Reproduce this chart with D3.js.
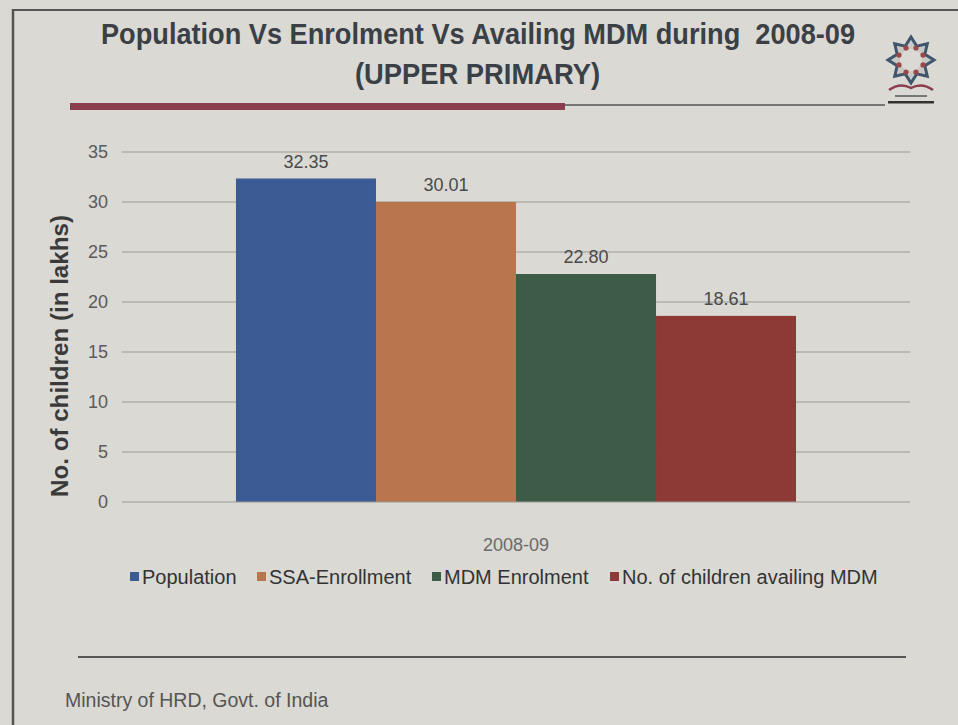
<!DOCTYPE html>
<html lang="en">
  <head>
    <meta charset="UTF-8" />
    <title>Population Vs Enrolment Vs Availing MDM - Upper Primary</title>
    <script src="https://d3js.org/d3.v7.min.js"></script>
    <style>
      body { margin: 0; background: #dad9d3; }
      svg text { font-family: "Liberation Sans", Arial, sans-serif; }
    </style>
  </head>
  <body>
    <svg id="chart" width="958" height="725"></svg>

    <script>
      // data
      const categories = ["2008-09"];
      const series = ["Population", "SSA-Enrollment", "MDM Enrolment", "No. of children availing MDM"];
      const values = [32.35, 30.01, 22.8, 18.61];
      const valueLabels = ["32.35", "30.01", "22.80", "18.61"];
      const colors = ["#3c5a93", "#b9754d", "#3c5c47", "#8d3a37"];
      const yTicks = [0, 5, 10, 15, 20, 25, 30, 35];

      const svg = d3.select("#chart");

      // slide frame
      svg.append("rect").attr("width", 958).attr("height", 725).attr("fill", "#dad9d3");
      svg.append("line").attr("x1", 13).attr("x2", 958).attr("y1", 10).attr("y2", 10)
        .attr("stroke", "#555").attr("stroke-width", 2);
      svg.append("line").attr("x1", 13).attr("x2", 13).attr("y1", 9).attr("y2", 725)
        .attr("stroke", "#555").attr("stroke-width", 2.5);

      // title (condensed bold)
      svg.append("text").attr("x", 101).attr("y", 44)
        .attr("textLength", 754).attr("lengthAdjust", "spacingAndGlyphs")
        .attr("font-size", 30).attr("font-weight", "bold").attr("fill", "#3a4046")
        .style("white-space", "pre")
        .text("Population Vs Enrolment Vs Availing MDM during  2008-09");
      svg.append("text").attr("x", 355).attr("y", 84)
        .attr("textLength", 245).attr("lengthAdjust", "spacingAndGlyphs")
        .attr("font-size", 30).attr("font-weight", "bold").attr("fill", "#3a4046")
        .text("(UPPER PRIMARY)");

      // title underline
      svg.append("rect").attr("x", 70).attr("y", 103).attr("width", 495).attr("height", 7).attr("fill", "#8a3d4c");
      svg.append("line").attr("x1", 565).attr("x2", 885).attr("y1", 105).attr("y2", 105)
        .attr("stroke", "#555").attr("stroke-width", 1.5);

      // small logo
      const logo = svg.append("g").attr("transform", "translate(911,60)");
      const star = d3.range(16).map((i) => {
        const a = (i * Math.PI) / 8 - Math.PI / 2;
        const r = i % 2 ? 15 : 23;
        return [r * Math.cos(a), r * Math.sin(a)];
      });
      logo.append("path").attr("d", d3.line()(star) + "Z")
        .attr("fill", "#c9c8c4").attr("stroke", "#3f566e").attr("stroke-width", 3);
      logo.append("circle").attr("r", 11).attr("fill", "#dad9d3");
      d3.range(8).forEach((i) => {
        const a = (i * Math.PI) / 4 + Math.PI / 8;
        logo.append("circle").attr("cx", 13 * Math.cos(a)).attr("cy", 13 * Math.sin(a))
          .attr("r", 2.6).attr("fill", "#9a4747");
      });
      logo.append("path").attr("d", "M-22,30 Q-11,22 0,28 Q11,22 22,30")
        .attr("fill", "none").attr("stroke", "#8a3d4c").attr("stroke-width", 2.5);
      logo.append("rect").attr("x", -16).attr("y", 35).attr("width", 32).attr("height", 2).attr("fill", "#777");
      logo.append("rect").attr("x", -23).attr("y", 41).attr("width", 46).attr("height", 2.5).attr("fill", "#333");

      // scales
      const x0 = d3.scaleBand().domain(categories).range([122, 910]).paddingInner(0).paddingOuter(0.2035);
      const x1 = d3.scaleBand().domain(series).range([0, x0.bandwidth()]).padding(0);
      const y = d3.scaleLinear().domain([0, 35]).range([502, 152]);

      // gridlines
      svg.append("g").selectAll("line").data(yTicks.slice(1)).join("line")
        .attr("x1", 122).attr("x2", 910)
        .attr("y1", (d) => y(d)).attr("y2", (d) => y(d))
        .attr("stroke", "#9a9a96").attr("stroke-width", 1);

      // y axis labels
      const yAxis = svg.append("g").attr("transform", "translate(108,0)")
        .call(d3.axisLeft(y).tickValues(yTicks).tickSize(0).tickPadding(0));
      yAxis.select(".domain").remove();
      yAxis.selectAll("text").attr("font-size", 18).attr("fill", "#5a5a5a")
        .style("font-family", "'Liberation Sans', Arial, sans-serif");

      svg.append("text").attr("transform", "translate(68,356) rotate(-90)")
        .attr("text-anchor", "middle").attr("font-size", 23).attr("font-weight", "bold").attr("fill", "#3a3a3a")
        .attr("textLength", 282).attr("lengthAdjust", "spacingAndGlyphs")
        .text("No. of children (in lakhs)");

      // bars
      const group = svg.append("g").selectAll("g").data(categories).join("g")
        .attr("transform", (d) => `translate(${x0(d)},0)`);

      group.selectAll("rect").data(series).join("rect")
        .attr("x", (d) => x1(d))
        .attr("y", (d, i) => y(values[i]))
        .attr("width", x1.bandwidth())
        .attr("height", (d, i) => y(0) - y(values[i]))
        .attr("fill", (d, i) => colors[i]);

      group.selectAll("text").data(series).join("text")
        .attr("x", (d) => x1(d) + x1.bandwidth() / 2)
        .attr("y", (d, i) => y(values[i]) - 11)
        .attr("text-anchor", "middle").attr("font-size", 18).attr("fill", "#4a4a4a")
        .text((d, i) => valueLabels[i]);

      // baseline
      svg.append("line").attr("x1", 122).attr("x2", 910).attr("y1", y(0)).attr("y2", y(0))
        .attr("stroke", "#9a9a96").attr("stroke-width", 1);

      // category label
      svg.append("text").attr("x", x0("2008-09") + x0.bandwidth() / 2).attr("y", 551)
        .attr("text-anchor", "middle").attr("font-size", 18).attr("fill", "#6a6a6a")
        .text(categories[0]);

      // legend
      const legendX = [130, 257, 432, 610];
      const legend = svg.append("g").selectAll("g").data(series).join("g")
        .attr("transform", (d, i) => `translate(${legendX[i]},577)`);
      legend.append("rect").attr("x", 0).attr("y", -5).attr("width", 9).attr("height", 9)
        .attr("fill", (d, i) => colors[i]);
      legend.append("text").attr("x", 12).attr("y", 0).attr("dy", "0.35em")
        .attr("font-size", 20).attr("fill", "#333")
        .text((d) => d);

      // footer
      svg.append("line").attr("x1", 78).attr("x2", 906).attr("y1", 657).attr("y2", 657)
        .attr("stroke", "#555").attr("stroke-width", 2);
      svg.append("text").attr("x", 65).attr("y", 707)
        .attr("font-size", 19.5).attr("fill", "#555")
        .text("Ministry of HRD, Govt. of India");
    </script>
  </body>
</html>
